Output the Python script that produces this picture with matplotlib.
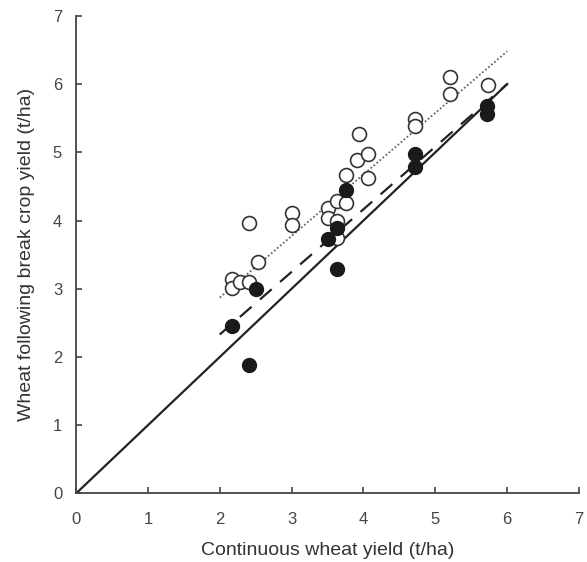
import matplotlib
matplotlib.use("Agg")
import matplotlib.pyplot as plt

plt.rcParams['font.family'] = ['Liberation Sans', 'DejaVu Sans']

# Open circles
open_x = [2.17, 2.17, 2.28, 2.41, 2.41, 2.53, 3.01, 3.01, 3.50, 3.50, 3.63, 3.63, 3.63,
          3.76, 3.76, 3.91, 3.94, 4.06, 4.06, 4.72, 4.72, 5.20, 5.21, 5.73]
open_y = [3.15, 3.01, 3.10, 3.10, 3.97, 3.39, 4.11, 3.94, 4.18, 4.04, 4.29, 4.00, 3.75,
          4.66, 4.25, 4.88, 5.27, 4.97, 4.63, 5.49, 5.39, 5.86, 6.10, 5.98]

# Filled circles
filled_x = [2.17, 2.41, 2.51, 3.50, 3.63, 3.63, 3.76, 4.71, 4.71, 5.72, 5.72]
filled_y = [2.45, 1.89, 2.99, 3.73, 3.89, 3.29, 4.44, 4.98, 4.78, 5.68, 5.56]

# Fitted lines (endpoints)
one_to_one_x = [0, 6]
one_to_one_y = [0, 6]
dashed_x = [2, 6]
dashed_y = [2.33, 6.0]
dotted_x = [2, 6]
dotted_y = [2.87, 6.48]

x_ticks = [0, 1, 2, 3, 4, 5, 6, 7]
y_ticks = [0, 1, 2, 3, 4, 5, 6, 7]

fig = plt.figure(figsize=(5.87, 5.62), dpi=100)
ax = fig.add_axes([0.1295, 0.1219, 0.857, 0.850])

ax.plot(one_to_one_x, one_to_one_y, color='#222222', lw=1.6, zorder=2)
ax.plot(dashed_x, dashed_y, color='#222222', lw=1.6, dashes=(7, 5), zorder=2)
ax.plot(dotted_x, dotted_y, color='#666666', lw=1.3, linestyle=(0, (1, 1.2)), zorder=2)

ax.plot(open_x, open_y, 'o', ms=10, mfc='white', mec='#333333', mew=1.2, zorder=3)
ax.plot(filled_x, filled_y, 'o', ms=10, mfc='#1a1a1a', mec='#1a1a1a', mew=1.0, zorder=4)

ax.set_xlim(0, 7)
ax.set_ylim(0, 7)
ax.set_xticks(x_ticks)
ax.set_yticks(y_ticks)
ax.set_xticklabels([str(t) for t in x_ticks])
ax.set_yticklabels([str(t) for t in y_ticks])

for s in ['top', 'right']:
    ax.spines[s].set_visible(False)
for s in ['left', 'bottom']:
    ax.spines[s].set_color('#444444')
    ax.spines[s].set_linewidth(1.3)

ax.tick_params(axis='x', direction='in', length=4, width=1.2, colors='#444444',
               labelsize=12, labelcolor='#444444', pad=13)
ax.tick_params(axis='y', direction='in', length=4, width=1.2, colors='#444444',
               labelsize=12, labelcolor='#444444', pad=10)

ax.set_xlabel('Continuous wheat yield (t/ha)', fontsize=14, color='#333333', labelpad=11)
ax.set_ylabel('Wheat following break crop yield (t/ha)', fontsize=14, color='#333333', labelpad=13)

fig.savefig('out.png', dpi=100)
